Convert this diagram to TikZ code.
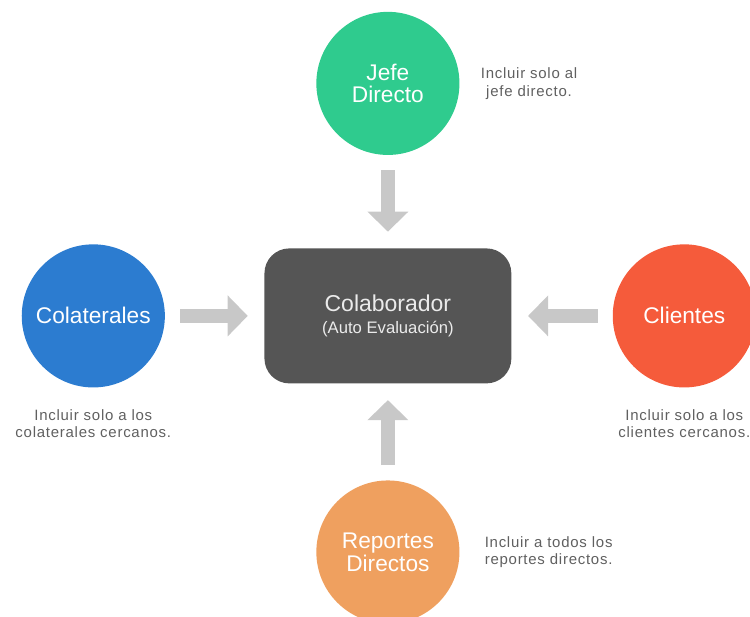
\documentclass[tikz,border=0pt]{standalone}
\usepackage{fontspec}
\setmainfont{Liberation Sans}
\newfontfamily\notefont[LetterSpace=5]{Liberation Sans}
\usepackage{tikz}
\usetikzlibrary{positioning}
\usetikzlibrary{arrows.meta, shapes.geometric}

\definecolor{jefegreen}{RGB}{47,203,142}
\definecolor{colatblue}{RGB}{44,124,208}
\definecolor{clientred}{RGB}{245,91,59}
\definecolor{reporteorange}{RGB}{239,160,95}
\definecolor{boxgray}{RGB}{85,85,85}
\definecolor{arrowgray}{RGB}{200,200,200}
\definecolor{notegray}{RGB}{96,96,96}

\begin{document}
\begin{tikzpicture}[
    line cap=butt, line join=round,
    role/.style={circle, minimum size=4.77cm, inner sep=0pt, text=white,
      align=center, font=\fontsize{21.5}{21.5}\selectfont},
    note/.style={inner sep=0pt, align=center, text=notegray,
      font=\notefont\fontsize{14.2}{16.6}\selectfont},
    feed/.style={arrowgray, line width=0.47cm,
      -{Triangle[length=0.67cm, width=1.33cm]},
      shorten <=0.5cm, shorten >=0.55cm}
  ]

  \clip (-12.93,-10.03) rectangle (12.07,10.53);

  %--------------------------
  % Centre: the person being evaluated
  %--------------------------
  \node[fill=boxgray, rounded corners=0.83cm, minimum width=8.23cm,
        minimum height=4.5cm, text=white!92!black, align=center,
        font=\fontsize{21.8}{21.8}\selectfont] (colab) at (0,0)
    {Colaborador\\{\fontsize{15.8}{15.8}\selectfont (Auto Evaluaci\'on)}};

  %--------------------------
  % Evaluators around it
  %--------------------------
  \node[role, fill=jefegreen] (jefe) at (0,7.75) {Jefe\\Directo};
  \node[role, fill=colatblue] (colat) at (-9.82,0) {Colaterales};
  \node[role, fill=clientred] (clientes) at (9.88,0) {Clientes};
  \node[role, fill=reporteorange] (reportes) at (0,-7.87) {Reportes\\Directos};

  % Notes next to each evaluator
  \node[note, right=0.7cm of jefe] (jefenote)
    {Incluir solo al\\jefe directo.};
  \node[note, below=0.72cm of colat] (colatnote)
    {Incluir solo a los\\colaterales cercanos.};
  \node[note, below=0.72cm of clientes] (clientesnote)
    {Incluir solo a los\\clientes cercanos.};
  \node[note, right=0.83cm of reportes] (reportesnote)
    {Incluir a todos los\\reportes directos.};

  % Block arrows into the centre
  \draw[feed] (jefe) -- (colab);
  \draw[feed] (colat) -- (colab);
  \draw[feed] (clientes) -- (colab);
  \draw[feed] (reportes) -- (colab);

\end{tikzpicture}
\end{document}
